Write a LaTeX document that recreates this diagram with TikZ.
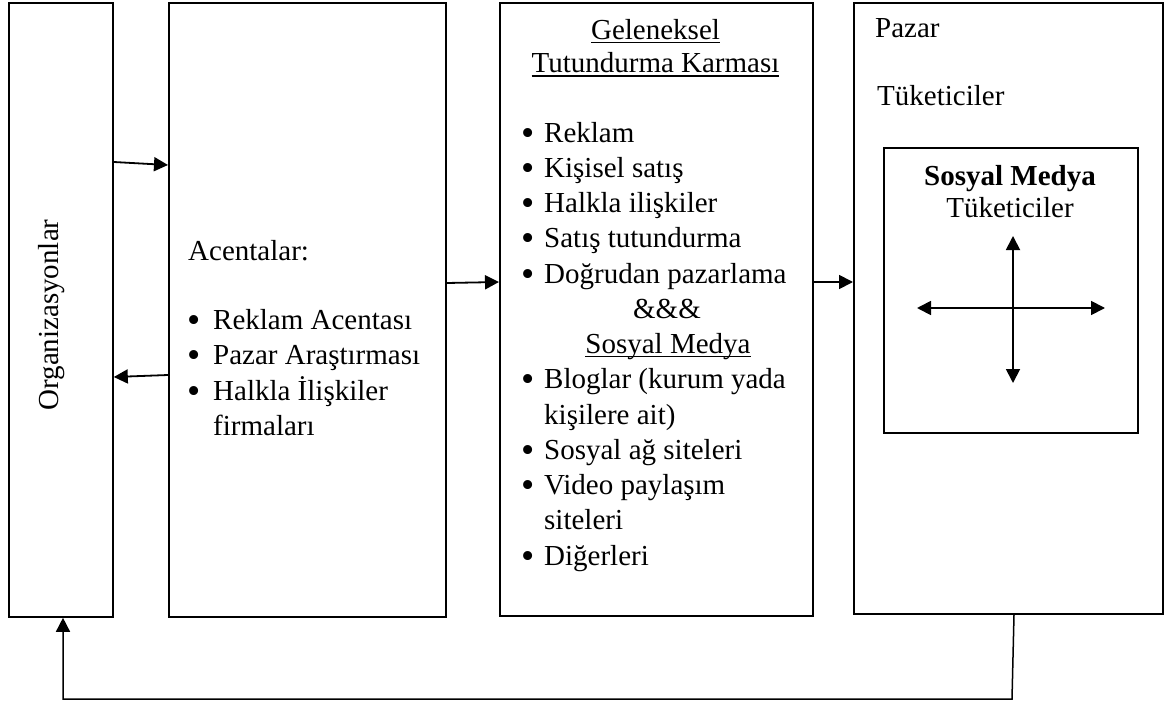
\documentclass[tikz,border=0pt]{standalone}
\usepackage{fontspec}
\usepackage{graphicx}
\setmainfont{Liberation Serif}
\usetikzlibrary{arrows.meta}

% underline set close under the baseline
\newsavebox\ulbox
\newcommand\wul[1]{\sbox\ulbox{#1}\rlap{\rule[-3.5pt]{\wd\ulbox}{1.4pt}}\usebox\ulbox}
% stack of lines at a fixed baseline distance
\newcommand\rows[2]{\vtop{\baselineskip=#1\lineskiplimit=-\maxdimen\lineskip=0pt\relax#2}}
% a slightly larger list bullet
\newcommand\bigdot{\raisebox{-3pt}{\scalebox{1.3}{\textbullet}}}
\newcommand\bul[2]{\hbox{\makebox[#1][l]{\bigdot}#2}}
\newcommand\cont[2]{\hbox{\hspace{#1}#2}}

\begin{document}
\begin{tikzpicture}[x=1pt,y=-1pt,
  panel/.style={draw, line width=1.8pt, inner sep=0pt, anchor=north west},
  flow/.style={line width=1.8pt, -{Triangle[length=14pt,width=14pt]}},
  twoway/.style={line width=1.8pt, {Triangle[length=14pt,width=14pt]}-{Triangle[length=14pt,width=14pt]}},
  txt/.style={inner sep=0pt, font=\fontsize{29}{35}\selectfont},
]
\useasboundingbox (0,0) rectangle (1167,701);

% main panels
\node[panel, minimum width=104pt, minimum height=614pt] (org) at (8,2) {};
\node[panel, minimum width=277pt, minimum height=614pt] (acn) at (168,2) {};
\node[panel, minimum width=313pt, minimum height=613pt] (mix) at (499,2) {};
\node[panel, minimum width=309pt, minimum height=611pt] (mkt) at (853,2) {};
\node[panel, line width=1.6pt, minimum width=254pt, minimum height=285pt] (sm) at (883,147) {};

% organisations
\node[txt, rotate=90, anchor=base] (orgt) at (58,315) {Organizasyonlar};

% agencies
\node[txt, anchor=base west] (acnt) at (188,260) {Acentalar:};
\node[txt, anchor=base west] (acnl) at (187,329) {\rows{35.5pt}{%
  \bul{26pt}{Reklam Acentası}
  \bul{26pt}{Pazar Araştırması}
  \bul{26pt}{Halkla İlişkiler}
  \cont{26pt}{firmaları}}};

% promotion mix
\node[txt, anchor=base] (mixa) at (655.5,40) {\wul{Geleneksel}};
\node[txt, anchor=base] (mixb) at (655.5,73) {\wul{Tutundurma Karması}};
\node[txt, anchor=base west] (mixl) at (521,142) {\rows{35.25pt}{%
  \bul{23pt}{Reklam}
  \bul{23pt}{Kişisel satış}
  \bul{23pt}{Halkla ilişkiler}
  \bul{23pt}{Satış tutundurma}
  \bul{23pt}{Doğrudan pazarlama}}};
\node[txt, anchor=base] (amp) at (667,318.25) {\&\&\&};
\node[txt, anchor=base] (smh) at (668,353.5) {\wul{Sosyal Medya}};
\node[txt, anchor=base west] (sml) at (521,388.75) {\rows{35.25pt}{%
  \bul{23pt}{Bloglar (kurum yada}
  \cont{23pt}{kişilere ait)}
  \bul{23pt}{Sosyal ağ siteleri}
  \bul{23pt}{Video paylaşım}
  \cont{23pt}{siteleri}
  \bul{23pt}{Diğerleri}}};

% market
\node[txt, anchor=base west] (mkta) at (875,38) {Pazar};
\node[txt, anchor=base west] (mktb) at (877,105) {Tüketiciler};
\node[txt, anchor=base] (smt) at (1010,185) {\textbf{Sosyal Medya}};
\node[txt, anchor=base] (smc) at (1010,217) {Tüketiciler};

% interaction among social media consumers
\coordinate (up) at (1013,236);
\coordinate (dn) at (1013,383);
\coordinate (lt) at (917,308);
\coordinate (rt) at (1105,308);
\draw[twoway] (dn) -- (up);
\draw[twoway] (lt) -- (rt);

% flows between panels
\draw[flow] (org.east |- 0,162) -- (acn.west |- 0,165);
\draw[flow] (acn.west |- 0,375) -- (org.east |- 0,377);
\draw[flow] (acn.east |- 0,283) -- (mix.west |- 0,282);
\draw[flow] (mix.east |- 0,282) -- (mkt.west |- 0,282);

% feedback from the market to the organisations
\coordinate (fbr) at (1012,699);
\coordinate (fbl) at (63,699);
\draw[flow, line width=1.5pt] (mkt.south -| 1014,0) -- (fbr) -- (fbl) -- (org.south -| fbl);
\end{tikzpicture}
\end{document}
